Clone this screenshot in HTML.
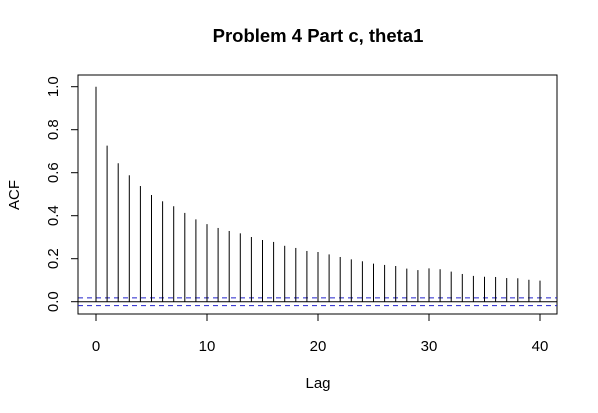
<!DOCTYPE html>
<html><head><meta charset="utf-8"><style>body{margin:0;background:#fff}svg{display:block;font-family:"Liberation Sans",Arial,sans-serif}</style></head>
<body>
<svg id="c" width="598" height="413">
<text x="318" y="42" text-anchor="middle" font-size="18.5" font-weight="bold">Problem 4 Part c, theta1</text>
<text x="318" y="388" text-anchor="middle" font-size="15">Lag</text>
<text transform="translate(19,195) rotate(-90)" text-anchor="middle" font-size="15">ACF</text>
<rect x="78" y="75" width="479" height="239" fill="none" stroke="#000"/>
<g id="g"></g>
</svg>
<script>
const lags=[0,1,2,3,4,5,6,7,8,9,10,11,12,13,14,15,16,17,18,19,20,21,22,23,24,25,26,27,28,29,30,31,32,33,34,35,36,37,38,39,40];
const acf=[1.0,0.726,0.644,0.588,0.538,0.496,0.467,0.444,0.413,0.383,0.361,0.343,0.329,0.318,0.301,0.287,0.278,0.260,0.250,0.236,0.231,0.220,0.208,0.197,0.188,0.177,0.171,0.166,0.154,0.147,0.155,0.151,0.140,0.129,0.120,0.116,0.115,0.110,0.109,0.102,0.098];
const xTicks=[0,10,20,30,40];
const yTicks=[0,0.2,0.4,0.6,0.8,1.0];
const yTickLabels=["0.0","0.2","0.4","0.6","0.8","1.0"];
const ci=0.018;
const X=v=>96+v*11.1, Y=v=>301.7-v*215;
const g=document.getElementById('g'),NS="http://www.w3.org/2000/svg";
function mk(t,a,txt){const e=document.createElementNS(NS,t);for(const k in a)e.setAttribute(k,a[k]);if(txt!=null)e.textContent=txt;g.appendChild(e);return e;}
let e=mk('line',{x1:78,x2:557,y1:Y(0),y2:Y(0),stroke:'#000'});


[ci,-ci].forEach(c=>{const l=mk('line',{x1:78,x2:557,y1:Y(c),y2:Y(c),stroke:'#2222cc','stroke-dasharray':'5,4'});

});
lags.forEach((l,i)=>{const b=mk('line',{x1:X(l),x2:X(l),y1:Y(0),y2:Y(acf[i]),stroke:'#000'});

});
xTicks.forEach(t=>{mk('line',{x1:X(t),x2:X(t),y1:314,y2:321,stroke:'#000'});
const tx=mk('text',{x:X(t),y:351,'text-anchor':'middle','font-size':15},String(t));

});
mk('line',{x1:X(0),x2:X(40),y1:314,y2:314,stroke:'#000'});
yTicks.forEach((t,i)=>{mk('line',{x1:71,x2:78,y1:Y(t),y2:Y(t),stroke:'#000'});
const tx=mk('text',{transform:`translate(58,${Y(t)}) rotate(-90)`,'text-anchor':'middle','font-size':15},yTickLabels[i]);

});
mk('line',{x1:78,x2:78,y1:Y(0),y2:Y(1),stroke:'#000'});
</script>
</body></html>
